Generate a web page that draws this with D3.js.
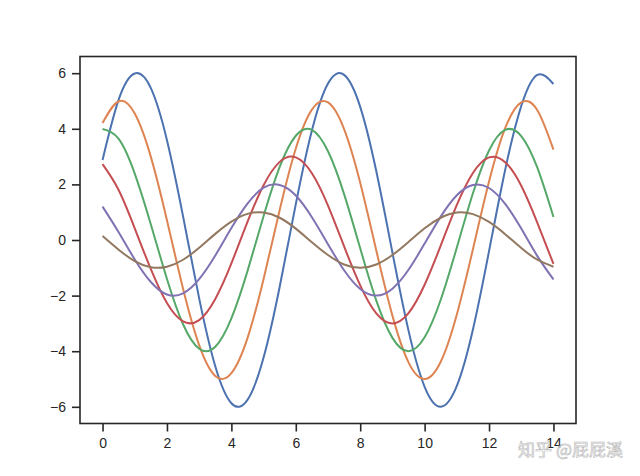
<!DOCTYPE html>
<html>
<head>
<meta charset="utf-8">
<script src="https://cdn.jsdelivr.net/npm/d3@7"></script>
<style>
  body { margin: 0; background: #fff; }
  svg { display: block; }
</style>
</head>
<body>
<svg id="chart" width="640" height="476"></svg>
<script>
// x positions shared by every curve
var xs = [0, 0.5, 1, 1.5, 2, 2.5, 3, 3.5, 4, 4.5, 5, 5.5, 6, 6.5, 7, 7.5, 8, 8.5, 9, 9.5,
    10, 10.5, 11, 11.5, 12, 12.5, 13, 13.5, 14];

// values, one array per line
var blueVals = [2.88, 5.05, 5.99, 5.46, 3.59, 0.85, -2.10, -4.54, -5.87, -5.75, -4.23, -1.68, 1.29, 3.94, 5.63,
    5.94, 4.79, 2.47, -0.45, -3.26, -5.28, -6.00, -5.25, -3.22, -0.40, 2.52, 4.82, 5.94, 5.61];
var orangeVals = [4.21, 4.99, 4.55, 2.99, 0.71, -1.75, -3.78, -4.89, -4.79, -3.53, -1.40, 1.08, 3.29, 4.69, 4.95,
    3.99, 2.06, -0.38, -2.72, -4.40, -5.00, -4.38, -2.68, -0.33, 2.10, 4.02, 4.95, 4.67, 3.25];
var greenVals = [3.99, 3.64, 2.39, 0.56, -1.40, -3.03, -3.91, -3.84, -2.82, -1.12, 0.86, 2.63, 3.75, 3.96, 3.19,
    1.65, -0.30, -2.18, -3.52, -4.00, -3.50, -2.15, -0.27, 1.68, 3.22, 3.96, 3.74, 2.60, 0.83];
var redVals = [2.73, 1.80, 0.42, -1.05, -2.27, -2.93, -2.88, -2.12, -0.84, 0.65, 1.97, 2.81, 2.97, 2.40, 1.24,
    -0.23, -1.63, -2.64, -3.00, -2.63, -1.61, -0.20, 1.26, 2.41, 2.97, 2.80, 1.95, 0.62, -0.86];
var purpleVals = [1.20, 0.28, -0.70, -1.51, -1.96, -1.92, -1.41, -0.56, 0.43, 1.31, 1.88, 1.98, 1.60, 0.82, -0.15,
    -1.09, -1.76, -2.00, -1.75, -1.07, -0.13, 0.84, 1.61, 1.98, 1.87, 1.30, 0.41, -0.58, -1.42];
var brownVals = [0.14, -0.35, -0.76, -0.98, -0.96, -0.71, -0.28, 0.22, 0.66, 0.94, 0.99, 0.80, 0.41, -0.08, -0.54,
    -0.88, -1.00, -0.88, -0.54, -0.07, 0.42, 0.80, 0.99, 0.93, 0.65, 0.21, -0.29, -0.71, -0.96];

var seriesList = [blueVals, orangeVals, greenVals, redVals, purpleVals, brownVals];
var colors = ["#4C72B0", "#DD8452", "#55A868", "#C44E52", "#8172B3", "#937860"];

var xTicks = [0, 2, 4, 6, 8, 10, 12, 14];
var yTicks = [-6, -4, -2, 0, 2, 4, 6];

var svg = d3.select("#chart");
var plotLeft = 80, plotRight = 576, plotTop = 56.5, plotBottom = 423.5;

var x = d3.scaleLinear().domain([-0.7, 14.7]).range([plotLeft, plotRight]);
var y = d3.scaleLinear().domain([-6.6, 6.6]).range([plotBottom, plotTop]);

var line = d3.line()
    .x(function (d, i) { return x(xs[i]); })
    .y(function (d) { return y(d); })
    .curve(d3.curveNatural);

svg.append("g")
    .selectAll("path")
    .data(seriesList)
    .enter()
    .append("path")
    .attr("d", function (d) { return line(d); })
    .attr("fill", "none")
    .attr("stroke", function (d, i) { return colors[i]; })
    .attr("stroke-width", 2);

// frame
svg.append("rect")
    .attr("x", plotLeft)
    .attr("y", plotTop)
    .attr("width", plotRight - plotLeft)
    .attr("height", plotBottom - plotTop)
    .attr("fill", "none")
    .attr("stroke", "#262626")
    .attr("stroke-width", 1.6);

var xAxis = svg.append("g")
    .attr("transform", "translate(0," + plotBottom + ")")
    .call(d3.axisBottom(x).tickValues(xTicks).tickSize(8).tickPadding(7).tickFormat(d3.format("d")));
var yAxis = svg.append("g")
    .attr("transform", "translate(" + plotLeft + ",0)")
    .call(d3.axisLeft(y).tickValues(yTicks).tickSize(8).tickPadding(6).tickFormat(d3.format("d")));

[xAxis, yAxis].forEach(function (a) {
    a.select(".domain").remove();
    a.selectAll("line").attr("stroke", "#262626").attr("stroke-width", 1.6);
    a.selectAll("text")
        .attr("fill", "#262626")
        .style("font-family", "'Liberation Sans', Arial, sans-serif")
        .style("font-size", "14px");
});

// watermark
svg.append("text")
    .attr("x", 623)
    .attr("y", 456)
    .attr("text-anchor", "end")
    .style("font-family", "'Noto Sans CJK SC', sans-serif")
    .style("font-size", "17px")
    .attr("fill", "#ffffff")
    .attr("stroke", "#b8b8b8")
    .attr("stroke-width", 0.7)
    .attr("opacity", 0.9)
    .text("知乎 @屁屁溪");
</script>
</body>
</html>
